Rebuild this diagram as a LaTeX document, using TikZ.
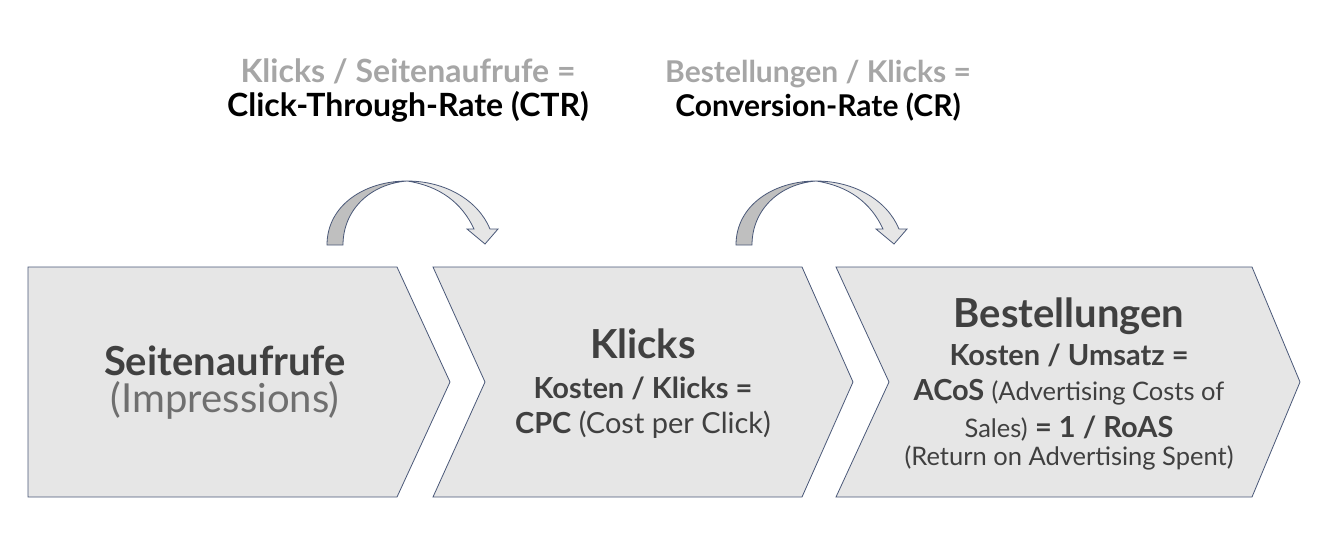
\documentclass[tikz,border=0pt]{standalone}
\usepackage{fontspec}
\setmainfont{Lato}

\definecolor{stagefill}{HTML}{E6E6E6}
\definecolor{stageline}{HTML}{4A5878}
\definecolor{bandback}{HTML}{BFBFBF}
\definecolor{textdark}{HTML}{404040}
\definecolor{textmid}{HTML}{6F6F6F}
\definecolor{textlight}{HTML}{A6A6A6}

\newcommand{\stagefont}{\fontsize{40}{37}\selectfont\bfseries}
\newcommand{\formfont}{\fontsize{29}{35}\selectfont}
\newcommand{\notefont}{\fontsize{25.5}{35}\selectfont}
\newcommand{\headfont}[1]{\fontsize{#1}{34}\selectfont\bfseries\lineskiplimit=-50pt}

\begin{document}
\begin{tikzpicture}[
  x=1pt, y=-1pt,
  stage/.style={draw=stageline, fill=stagefill, line width=0.8pt},
  label/.style={anchor=base, align=center, inner sep=0pt, text=textdark},
  head/.style={label, font=\headfont{#1}},
  bendarrow/.pic={
    \draw[stageline, fill=bandback, line width=0.8pt]
      (0,0) .. controls (0,-40) and (38,-64) .. (80,-64)
      .. controls (43,-61) and (16,-35) .. (16,0) -- cycle;
    \draw[stageline, fill=stagefill, line width=0.8pt]
      (80,-64) .. controls (118,-64) and (151,-45) .. (163,-16)
      -- (171,-16) -- (158,-1) -- (140,-16) -- (147,-16)
      .. controls (135,-42) and (113,-59) .. (80,-64) -- cycle;
  },
]
  \useasboundingbox (0,0) rectangle (1338,544);

  % funnel stages
  \draw[stage] (28,267) -- (397,267) -- (450,382) -- (397,497) -- (28,497) -- cycle;
  \draw[stage] (433,267) -- (802,267) -- (853,382) -- (802,497) -- (433,497) -- (485,382) -- cycle;
  \draw[stage] (836,267) -- (1252,267) -- (1300,382) -- (1252,497) -- (836,497) -- (889,382) -- cycle;

  % curved arrows between stages
  \pic at (327,245) {bendarrow};
  \pic at (736,245) {bendarrow};

  % rates above the arrows
  \node[head=32] (ctr) at (408,116)
    {\textcolor{textlight}{Klicks / Seitenaufrufe =}\\
     \textcolor{black}{Click-Through-Rate (CTR)}};
  \node[head=30] (cr) at (818,116)
    {\textcolor{textlight}{Bestellungen / Klicks =}\\
     \textcolor{black}{Conversion-Rate (CR)}};

  % stage texts
  \node[label, font=\stagefont] (impr) at (225,412)
    {Seitenaufrufe\\
     {\mdseries\color{textmid}(Impressions)}};
  \node[label, font=\formfont] (clicks) at (643,433)
    {{\stagefont Klicks}\\[5pt]
     \textbf{Kosten / Klicks =}\\
     \textbf{CPC} (Cost per Click)};
  \node[label, font=\formfont] (orders) at (1069,465)
    {{\stagefont Bestellungen}\\[3pt]
     \textbf{Kosten / Umsatz =}\\
     \textbf{ACoS} {\notefont(Advertising Costs of}\\[2pt]
     {\notefont Sales)} \textbf{= 1 / RoAS}\\[-7pt]
     {\notefont(Return on Advertising Spent)}};
\end{tikzpicture}
\end{document}
